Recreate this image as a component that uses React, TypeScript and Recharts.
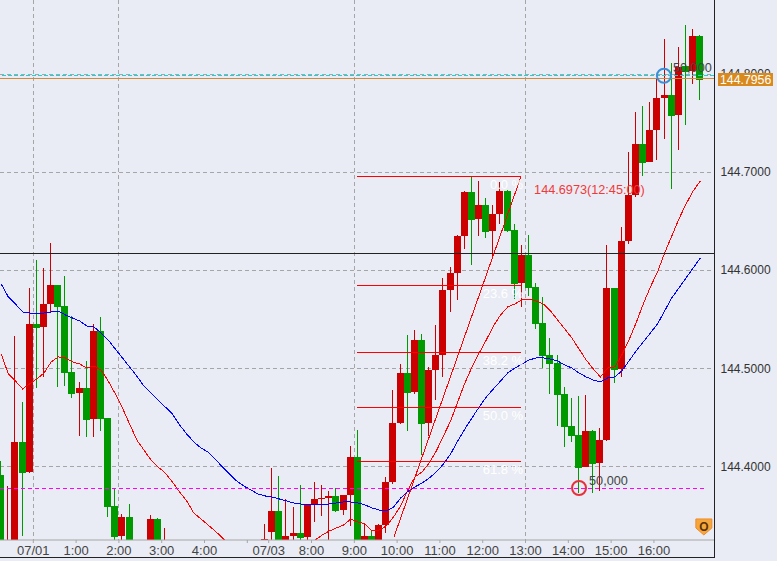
import { Bar, CartesianGrid, ComposedChart, Line, ReferenceDot, ReferenceLine, XAxis, YAxis } from "recharts";

// 10 minute candles, first one is slot -5 (slot 0 = 07/01 0:00)
const firstSlot = -5;

const opens = [
  144.3915, 144.2895, 144.3099, 144.4252, 144.3946, 144.5454, 144.5424, 144.5658, 144.5852, 144.5638,
  144.4965, 144.4751, 144.4802, 144.4486, 144.5383, 144.4497, 144.3599, 144.3293, 144.3487, 144.313,
  144.2997, 144.313, 144.3466, 144.3048, 144.308, 144.295, 144.286, 144.279, 144.27, 144.266,
  144.262, 144.259, 144.254, 144.262, 144.27, 144.278, 144.284, 144.315, 144.3334, 144.3548,
  144.3201, 144.3293, 144.3324, 144.3283, 144.3609, 144.367, 144.368, 144.3701, 144.3558, 144.3711,
  144.4099, 144.317, 144.3293, 144.317, 144.3405, 144.3844, 144.4446, 144.4955, 144.4761, 144.5291,
  144.4446, 144.4985, 144.5138, 144.5801, 144.5974, 144.6351, 144.68, 144.6524, 144.6667, 144.6402,
  144.6575, 144.681, 144.6412, 144.5872, 144.6158, 144.5831, 144.5464, 144.5138, 144.5056, 144.4741,
  144.4415, 144.4323, 144.3996, 144.4364, 144.4037, 144.4272, 144.5821, 144.4995, 144.63, 144.6769,
  144.7289, 144.7105, 144.7432, 144.7758, 144.7789, 144.7585, 144.8084, 144.8033, 144.839,
];
const highs = [
  144.4061, 144.3803, 144.5332, 144.466, 144.5821, 144.6106, 144.6025, 144.628, 144.5852, 144.5943,
  144.5536, 144.4863, 144.5077, 144.5454, 144.5526, 144.4497, 144.3773, 144.3517, 144.3619, 144.317,
  144.3191, 144.3507, 144.3477, 144.3375, 144.312, 144.305, 144.295, 144.29, 144.281, 144.278,
  144.275, 144.27, 144.269, 144.275, 144.282, 144.29, 144.298, 144.3416, 144.3987, 144.3905,
  144.367, 144.3589, 144.3813, 144.3609, 144.3844, 144.3813, 144.3752, 144.3782, 144.3711, 144.4211,
  144.4374, 144.3426, 144.3354, 144.3416, 144.3895, 144.4781, 144.5046, 144.5342, 144.5393, 144.5352,
  144.5016, 144.5444, 144.5923, 144.6035, 144.6361, 144.681, 144.6953, 144.6912, 144.6739, 144.6667,
  144.6902, 144.682, 144.6473, 144.6259, 144.6361, 144.5872, 144.5729, 144.5311, 144.5138, 144.4812,
  144.47, 144.472, 144.473, 144.4374, 144.4394, 144.6259, 144.5821, 144.6443, 144.7208, 144.7615,
  144.7676, 144.7717, 144.7952, 144.8359, 144.8115, 144.8278, 144.8502, 144.8461, 144.84,
];
const lows = [
  144.3048, 144.2844, 144.2997, 144.3293, 144.3935, 144.4802, 144.4914, 144.5577, 144.4812, 144.4822,
  144.47, 144.4313, 144.4303, 144.4303, 144.4364, 144.3487, 144.3201, 144.3201, 144.3099, 144.2865,
  144.2926, 144.3048, 144.2997, 144.2967, 144.288, 144.28, 144.272, 144.266, 144.26, 144.256,
  144.254, 144.25, 144.248, 144.257, 144.265, 144.272, 144.278, 144.3089, 144.3201, 144.313,
  144.315, 144.3201, 144.3201, 144.3201, 144.3436, 144.3497, 144.3201, 144.3538, 144.3507, 144.3395,
  144.313, 144.313, 144.313, 144.315, 144.3324, 144.3823, 144.4436, 144.4364, 144.4741, 144.4119,
  144.4313, 144.468, 144.4914, 144.5577, 144.5699, 144.6219, 144.6056, 144.6351, 144.6331, 144.6117,
  144.6473, 144.6392, 144.5709, 144.5628, 144.5739, 144.5403, 144.5005, 144.4741, 144.4415, 144.42,
  144.4252, 144.3732, 144.3996, 144.3732, 144.3752, 144.4262, 144.4853, 144.4914, 144.627, 144.6749,
  144.6963, 144.7105, 144.7126, 144.734, 144.683, 144.7228, 144.7483, 144.7901, 144.7738,
];
const closes = [
  144.315, 144.3201, 144.4252, 144.3939, 144.5454, 144.5413, 144.5658, 144.5852, 144.5628, 144.4955,
  144.4741, 144.4802, 144.4476, 144.5383, 144.4486, 144.3589, 144.3283, 144.3487, 144.317, 144.2946,
  144.313, 144.3466, 144.313, 144.3201, 144.295, 144.286, 144.279, 144.27, 144.266, 144.262,
  144.259, 144.254, 144.262, 144.27, 144.278, 144.284, 144.29, 144.3262, 144.3548, 144.317,
  144.3293, 144.3324, 144.3272, 144.3609, 144.367, 144.368, 144.3701, 144.3548, 144.3711, 144.4099,
  144.317, 144.3293, 144.317, 144.3405, 144.3844, 144.4446, 144.4955, 144.4751, 144.5291, 144.4436,
  144.4985, 144.5138, 144.5801, 144.5974, 144.6351, 144.68, 144.6514, 144.6667, 144.6392, 144.6575,
  144.681, 144.6402, 144.5862, 144.6158, 144.5821, 144.5454, 144.5128, 144.5046, 144.473, 144.4404,
  144.4313, 144.3986, 144.4364, 144.4027, 144.4272, 144.5821, 144.4985, 144.63, 144.6769, 144.7289,
  144.7095, 144.7432, 144.7758, 144.7789, 144.7575, 144.8074, 144.8023, 144.839, 144.7941,
];

const maSlow = [
  144.5862, 144.5729, 144.5658, 144.5577, 144.5566, 144.5566, 144.5566, 144.5577, 144.5587, 144.5546,
  144.5515, 144.5485, 144.5434, 144.5424, 144.5362, 144.5291, 144.5199, 144.5108, 144.5016, 144.4924,
  144.4822, 144.4751, 144.468, 144.4608, 144.4537, 144.4425, 144.4333, 144.4252, 144.419, 144.4149,
  144.4078, 144.3996, 144.3925, 144.3854, 144.3803, 144.3762, 144.3721, 144.3701, 144.369, 144.367,
  144.365, 144.363, 144.3619, 144.3619, 144.3609, 144.3619, 144.3619, 144.363, 144.364, 144.364,
  144.363, 144.3609, 144.3578, 144.3558, 144.3548, 144.3589, 144.368, 144.3747, 144.3793, 144.3833,
  144.3884, 144.3946, 144.4027, 144.4129, 144.4262, 144.4384, 144.4497, 144.4608, 144.471, 144.4792,
  144.4873, 144.4955, 144.5005, 144.5046, 144.5087, 144.5108, 144.5108, 144.5097, 144.5077, 144.5036,
  144.5005, 144.4955, 144.4914, 144.4883, 144.4863, 144.4904, 144.4914, 144.4975, 144.5077, 144.5179,
  144.5271, 144.5362, 144.5454, 144.5587, 144.5719, 144.5821, 144.5923, 144.6025, 144.6127,
];
const maFast = [
  144.5148, 144.4945, 144.4873, 144.4792, 144.4843, 144.4894, 144.4955, 144.5067, 144.5118, 144.5108,
  144.5067, 144.5046, 144.5005, 144.5026, 144.4985, 144.4873, 144.4741, 144.4598, 144.4435, 144.4272,
  144.417, 144.4068, 144.3996, 144.3935, 144.3844, 144.3742, 144.365, 144.3527, 144.3466, 144.3405,
  144.3344, 144.3273, 144.3201, 144.313, 144.3069, 144.3018, 144.2997, 144.3048, 144.313, 144.315,
  144.317, 144.3191, 144.3211, 144.3221, 144.3252, 144.3303, 144.3344, 144.3375, 144.3405, 144.3466,
  144.3436, 144.3416, 144.3344, 144.3354, 144.3395, 144.3487, 144.3599, 144.3762, 144.3895, 144.3946,
  144.4037, 144.416, 144.4313, 144.4466, 144.466, 144.4853, 144.5016, 144.5158, 144.5291, 144.5434,
  144.5546, 144.5628, 144.5658, 144.5699, 144.5709, 144.5689, 144.5658, 144.5587, 144.5495, 144.5403,
  144.5311, 144.5199, 144.5087, 144.4995, 144.4914, 144.5005, 144.5016, 144.5138, 144.5291, 144.5464,
  144.5658, 144.5831, 144.5984, 144.6178, 144.6351, 144.6524, 144.6677, 144.681, 144.6912,
];

const priceTicks = [144.4, 144.5, 144.6, 144.7, 144.8];
const timeSlots = [0, 6, 12, 18, 24, 30, 33, 39, 45, 51, 57, 63, 69, 75, 81, 87];
const timeLabels = ["07/01", "1:00", "2:00", "3:00", "4:00", "", "07/03", "8:00", "9:00", "10:00", "11:00", "12:00", "13:00", "14:00", "15:00", "16:00"];
const gridSlots = [0, 12, 45, 69];

// fibonacci levels, drawn from the swing low to the swing high
const fibLevels = [144.6958, 144.5849, 144.5166, 144.4605, 144.405];
const fibLabels = ["0.0 %", "23.6 %", "38.2 %", "50.0 %", "61.8 %"];
const fibStart = 45.37;
const fibEnd = 68.37;
const trendStart = { x: 50.56, y: 144.3283 };
const trendEnd = { x: 68.37, y: 144.6958 };

const currentPrice = 144.7956;
const blackLevel = 144.6174;
const cyanLevel = 144.7985;
const magentaLevel = 144.3782;

const xDomain = [-4.668, 95.42];
const yDomain = [144.3252, 144.8757];

const rows = opens.map((open, i) => ({
  x: firstSlot + i + 0.5,
  open,
  close: closes[i],
  range: [lows[i], highs[i]],
  maSlow: maSlow[i],
  maFast: maFast[i],
}));

const UP = "#cc0000";
const DOWN = "#009900";
const FONT = "'Liberation Sans', Arial, sans-serif";

function Candle(props: any) {
  const { x, y, height, width, payload } = props;
  const [low, high] = payload.range;
  const perUnit = height / (high - low);
  const top = y + (high - Math.max(payload.open, payload.close)) * perUnit;
  const bottom = y + (high - Math.min(payload.open, payload.close)) * perUnit;
  const color = payload.close >= payload.open ? UP : DOWN;
  const left = Math.floor(x);
  const bodyTop = Math.round(top);
  return (
    <g>
      <rect x={left + 3} y={Math.round(y)} width={1} height={Math.max(1, Math.round(height))} fill={color} />
      <rect x={left} y={bodyTop} width={width} height={Math.max(1, Math.round(bottom) - bodyTop)} fill={color} />
    </g>
  );
}

function FloatText(text: string, color: string, size: number, anchor: string = "start") {
  return (props: any) => (
    <text x={props.cx} y={props.cy} dy={4} textAnchor={anchor} fontFamily={FONT} fontSize={size} fill={color}>
      {text}
    </text>
  );
}

function Ring(color: string) {
  return (props: any) => <circle cx={props.cx} cy={props.cy} r={7} fill="none" stroke={color} strokeWidth={2} />;
}

// price axis tick, the current price gets the orange tag over the normal labels
function PriceTick(props: any) {
  const { y, payload } = props;
  if (payload.value === currentPrice) {
    const top = Math.round(y) - 6;
    return (
      <g>
        <rect x={718} y={top} width={55} height={13} fill="#d98a1e" />
        <text x={720} y={top + 11} fontFamily={FONT} fontSize={12.3} fill="#fff">
          {currentPrice.toFixed(4)}
        </text>
      </g>
    );
  }
  return (
    <text x={720.5} y={y} dy={4} fontFamily={FONT} fontSize={12} fill="#333">
      {payload.value.toFixed(4)}
    </text>
  );
}

function OrderIcon(props: any) {
  const { cx, cy } = props;
  return (
    <g>
      <polygon
        points={`${cx - 8},${cy - 8} ${cx + 8},${cy - 8} ${cx + 8},${cy + 1} ${cx},${cy + 8} ${cx - 8},${cy + 1}`}
        fill="#f5a73c"
        stroke="#f08a2a"
      />
      <text x={cx} y={cy + 4} textAnchor="middle" fontFamily={FONT} fontSize={12} fontWeight="bold" fill="#5a3208">
        O
      </text>
    </g>
  );
}

export default function App() {
  return (
    <div style={{ position: "absolute", left: 0, top: 0, width: 777, height: 561, background: "#e9ecf4", overflow: "hidden" }}>
      <div style={{ position: "absolute", left: 0, top: 0, width: 714, height: 557, borderRight: "1px solid #222", borderBottom: "1px solid #222" }} />
      <ComposedChart
        width={777}
        height={561}
        data={rows}
        margin={{ top: 0, right: 0, bottom: 0, left: 0 }}
        style={{ position: "absolute", left: 0, top: 0 }}
      >
        <CartesianGrid stroke="#a6a6a6" strokeDasharray="4 3" shapeRendering="crispEdges" horizontalValues={priceTicks} verticalValues={gridSlots} />
        <XAxis
          dataKey="x"
          type="number"
          domain={xDomain}
          allowDataOverflow
          ticks={timeSlots}
          interval={0}
          height={21}
          stroke="#a6a6a6"
          tickSize={3}
          tickMargin={3}
          tick={{ fontFamily: FONT, fontSize: 13, fill: "#444" }}
          tickFormatter={(v: number) => timeLabels[timeSlots.indexOf(v)]}
        />
        <YAxis
          orientation="right"
          type="number"
          domain={yDomain}
          allowDataOverflow
          ticks={[...priceTicks, currentPrice]}
          interval={0}
          width={63}
          axisLine={false}
          tickLine={false}
          tick={PriceTick}
        />
        <Bar dataKey="range" barSize={7} shape={Candle} isAnimationActive={false} />
        <Line dataKey="maFast" stroke="#ff0000" strokeWidth={1} shapeRendering="crispEdges" dot={false} activeDot={false} isAnimationActive={false} />
        <Line dataKey="maSlow" stroke="#0000ff" strokeWidth={1} shapeRendering="crispEdges" dot={false} activeDot={false} isAnimationActive={false} />

        <ReferenceLine y={blackLevel} stroke="#222" shapeRendering="crispEdges" />
        <ReferenceLine y={cyanLevel} stroke="#19d4d4" strokeDasharray="4 2" shapeRendering="crispEdges" />
        <ReferenceLine y={currentPrice} stroke="#d08a3c" shapeRendering="crispEdges" />
        <ReferenceLine
          segment={[{ x: xDomain[0], y: magentaLevel }, { x: 94, y: magentaLevel }]}
          stroke="#ff00ff"
          strokeDasharray="4 3"
          shapeRendering="crispEdges"
        />
        {fibLevels.map((level) => (
          <ReferenceLine key={level} segment={[{ x: fibStart, y: level }, { x: fibEnd, y: level }]} stroke="#ff0000" shapeRendering="crispEdges" />
        ))}
        <ReferenceLine segment={[trendStart, trendEnd]} stroke="#ff0000" shapeRendering="crispEdges" />
        {fibLabels.map((label, i) => (
          <ReferenceDot key={label} x={fibEnd + 0.3} y={fibLevels[i] - 0.0088} shape={FloatText(label, "#fff", 13, "end")} />
        ))}

        <ReferenceDot x={70.2} y={144.682} shape={FloatText("144.6973(12:45:00)", "#f03a3a", 12.7)} />
        <ReferenceDot x={76.5} y={144.3782} shape={Ring("#e8303a")} />
        <ReferenceDot x={77.9} y={144.3849} shape={FloatText("50,000", "#444", 12.7)} />
        <ReferenceDot x={88.4} y={144.7985} shape={Ring("#3a8fd8")} />
        <ReferenceDot x={89.67} y={144.8064} shape={FloatText("50,000", "#444", 12.7)} />
        <ReferenceDot x={94} y={144.3385} shape={OrderIcon} />
      </ComposedChart>
    </div>
  );
}
